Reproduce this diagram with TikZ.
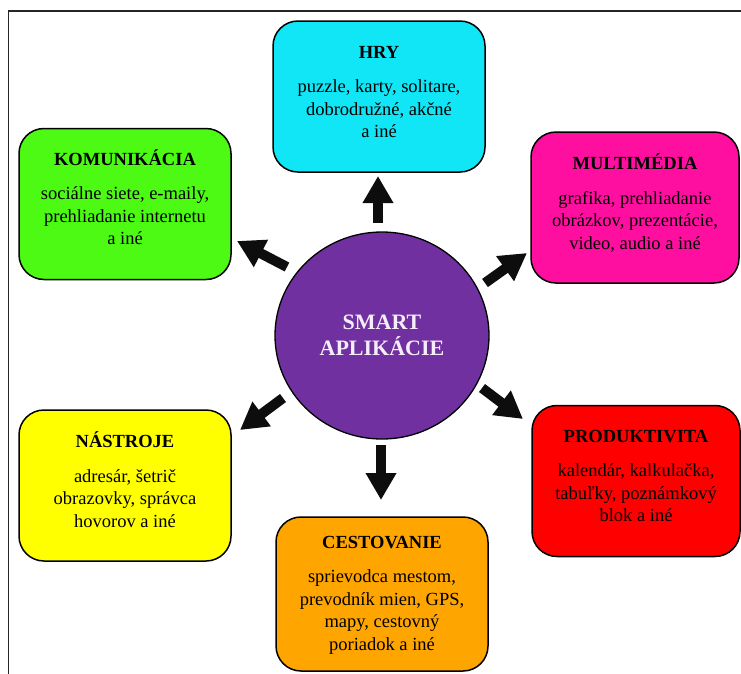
\documentclass[tikz,border=0pt]{standalone}
\usepackage{fontspec}
\setmainfont{Liberation Serif}
\usetikzlibrary{arrows.meta,shapes.geometric}
\definecolor{cHry}{RGB}{17,230,247}
\definecolor{cKom}{RGB}{76,250,20}
\definecolor{cMul}{RGB}{255,15,160}
\definecolor{cNas}{RGB}{255,255,0}
\definecolor{cCes}{RGB}{255,165,0}
\definecolor{cPro}{RGB}{255,0,0}
\definecolor{cSmart}{RGB}{112,48,160}
\tikzset{
  appbox/.style={draw=black, line width=1.5pt, rounded corners=25pt,
    minimum width=212pt, minimum height=151pt, inner sep=0pt},
  apptext/.style={align=center, font=\fontsize{18.5}{22.5}\selectfont, inner sep=0pt},
  bigarrow/.style={draw=black!95, line width=10pt,
    -{Triangle[width=29pt,length=27pt]}},
}
\newcommand{\ttl}[1]{{\bfseries #1}\\[12pt]}
\begin{document}
\begin{tikzpicture}[x=1pt,y=-1pt]
\useasboundingbox (0,0) rectangle (741,673);
\draw[line width=1.2pt, black!85] (8.5,720) -- (8.5,11) -- (800,11);

\node[appbox, fill=cHry] (hry) at (379,96.5) {};
\node[apptext, yshift=4.5pt] (hryt) at (hry.center) {\ttl{HRY}puzzle, karty, solitare,\\dobrodružné, akčné\\a iné};
\node[appbox, fill=cKom] (kom) at (125,204) {};
\node[apptext, yshift=7pt] (komt) at (kom.center) {\ttl{KOMUNIKÁCIA}sociálne siete, e-maily,\\prehliadanie internetu\\a iné};
\node[appbox, fill=cMul, minimum width=208pt] (mul) at (635,207.5) {};
\node[apptext, yshift=4.5pt] (mult) at (mul.center) {\ttl{MULTIMÉDIA}grafika, prehliadanie\\obrázkov, prezentácie,\\video, audio a iné};
\node[appbox, fill=cNas] (nas) at (125,485.5) {};
\node[apptext, yshift=6pt] (nast) at (nas.center) {\ttl{NÁSTROJE}adresár, šetrič\\obrazovky, správca\\hovorov a iné};
\node[appbox, fill=cCes, minimum height=154pt] (ces) at (382,594) {};
\node[apptext, yshift=-1pt] (cest) at (ces.center) {\ttl{CESTOVANIE}sprievodca mestom,\\prevodník mien, GPS,\\mapy, cestovný\\poriadok a iné};
\node[appbox, fill=cPro, minimum width=208pt] (pro) at (636,481) {};
\node[apptext, yshift=5pt] (prot) at (pro.center) {\ttl{PRODUKTIVITA}kalendár, kalkulačka,\\tabuľky, poznámkový\\blok a iné};

\node[ellipse, draw=black, line width=1.3pt, fill=cSmart, minimum width=214pt, minimum height=207pt,
  text={rgb,255:red,245;green,238;blue,250}, align=center, font=\bfseries\fontsize{22}{26}\selectfont] (c) at (382,335.5) {SMART\\APLIKÁCIE};

\coordinate (t1) at (378,223);   \coordinate (h1) at (378,176);
\coordinate (t2) at (287,267);   \coordinate (h2) at (237,241);
\coordinate (t3) at (485,283);   \coordinate (h3) at (527,253);
\coordinate (t4) at (482,388);   \coordinate (h4) at (523,419);
\coordinate (t5) at (283,398);   \coordinate (h5) at (240,430);
\coordinate (t6) at (381,445);   \coordinate (h6) at (381,500);
\draw[bigarrow] (t1) -- (h1);
\draw[bigarrow] (t2) -- (h2);
\draw[bigarrow] (t3) -- (h3);
\draw[bigarrow] (t4) -- (h4);
\draw[bigarrow] (t5) -- (h5);
\draw[bigarrow] (t6) -- (h6);
\end{tikzpicture}
\end{document}
